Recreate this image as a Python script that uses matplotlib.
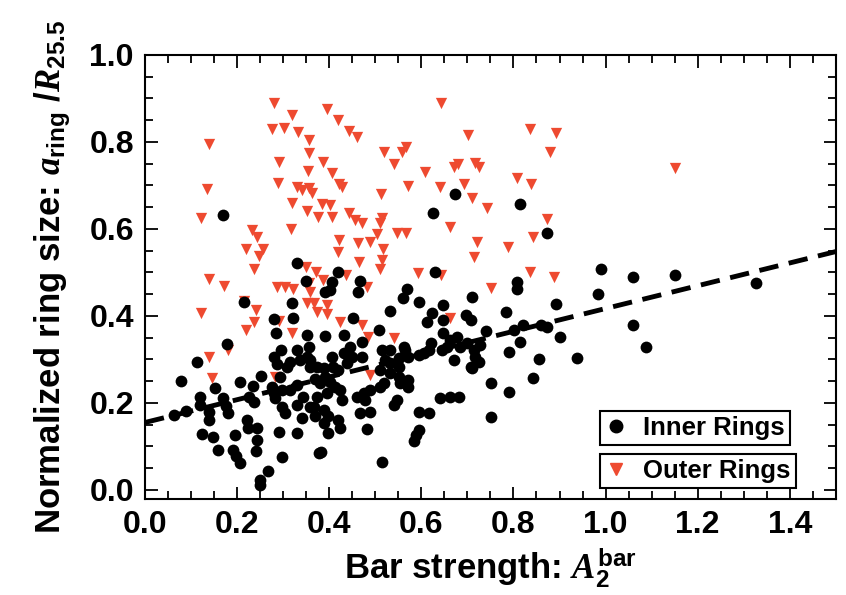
import matplotlib
matplotlib.use("Agg")
import matplotlib.pyplot as plt
from matplotlib.lines import Line2D
from matplotlib.ticker import MultipleLocator
import numpy as np

plt.rcParams['font.family'] = ['Liberation Sans', 'DejaVu Sans']
plt.rcParams['font.weight'] = 'bold'
plt.rcParams['mathtext.fontset'] = 'custom'
plt.rcParams['mathtext.it'] = 'Liberation Serif:italic'
plt.rcParams['mathtext.bf'] = 'Liberation Sans:bold'
plt.rcParams['mathtext.rm'] = 'Liberation Sans:bold'

# inner rings (black circles): bar strength, normalized ring size
inner_x = [0.062, 0.089, 0.078, 0.112, 0.120, 0.120, 0.138, 0.138, 0.123, 0.152,
           0.147, 0.159, 0.170, 0.176, 0.181, 0.196, 0.192, 0.198, 0.207, 0.169,
           0.179, 0.207, 0.221, 0.223, 0.243, 0.243, 0.241, 0.268, 0.250, 0.250,
           0.235, 0.225, 0.237, 0.252, 0.216, 0.290,
           0.330, 0.350, 0.319, 0.279, 0.322, 0.285, 0.352, 0.295, 0.330, 0.355,
           0.280, 0.286, 0.315, 0.337, 0.352, 0.359, 0.308, 0.293, 0.275, 0.279,
           0.297, 0.315, 0.330, 0.370, 0.283, 0.297, 0.304, 0.344, 0.330, 0.359,
           0.341, 0.370, 0.330, 0.297, 0.377,
           0.406, 0.420, 0.402, 0.391, 0.466, 0.462, 0.452, 0.391, 0.431, 0.446,
           0.431, 0.438, 0.449, 0.471, 0.471, 0.406, 0.409, 0.420, 0.359, 0.373,
           0.388, 0.391, 0.380, 0.402, 0.395, 0.413, 0.424, 0.428, 0.373, 0.366,
           0.388, 0.398, 0.388, 0.420, 0.424, 0.398, 0.383, 0.460, 0.475, 0.489,
           0.478, 0.467, 0.489, 0.483, 0.515,
           0.509, 0.531, 0.569, 0.560, 0.596, 0.630, 0.648, 0.710, 0.623, 0.612,
           0.648, 0.648, 0.696, 0.707, 0.515, 0.533, 0.522, 0.533, 0.562, 0.551,
           0.565, 0.572, 0.511, 0.533, 0.551, 0.518, 0.511, 0.551, 0.554, 0.572,
           0.572, 0.547, 0.540, 0.594, 0.605, 0.616, 0.620, 0.645, 0.656, 0.663,
           0.678, 0.685, 0.699, 0.714, 0.670, 0.707, 0.594, 0.616, 0.641, 0.663,
           0.681, 0.594, 0.589, 0.583, 0.625, 0.672,
           0.808, 0.807, 0.984, 0.893, 0.783, 0.741, 0.821, 0.801, 0.872, 1.059,
           1.087, 0.902, 0.814, 0.790, 0.855, 0.937, 0.752, 0.790, 0.843, 0.752,
           0.728, 0.717, 0.725, 0.710, 0.815, 0.872, 0.991, 1.060, 1.150, 1.326,
           0.859]
inner_y = [0.172, 0.182, 0.251, 0.295, 0.214, 0.195, 0.180, 0.161, 0.129, 0.234,
           0.121, 0.092, 0.211, 0.193, 0.176, 0.126, 0.091, 0.078, 0.062, 0.631,
           0.336, 0.248, 0.161, 0.143, 0.142, 0.115, 0.090, 0.044, 0.023, 0.011,
           0.239, 0.213, 0.203, 0.262, 0.431, 0.134,
           0.522, 0.480, 0.429, 0.394, 0.395, 0.360, 0.356, 0.322, 0.322, 0.329,
           0.305, 0.290, 0.295, 0.299, 0.306, 0.283, 0.283, 0.260, 0.237, 0.222,
           0.230, 0.230, 0.241, 0.254, 0.211, 0.191, 0.176, 0.214, 0.195, 0.191,
           0.165, 0.169, 0.130, 0.075, 0.084,
           0.479, 0.500, 0.460, 0.456, 0.481, 0.454, 0.395, 0.354, 0.356, 0.329,
           0.314, 0.291, 0.306, 0.339, 0.306, 0.306, 0.283, 0.276, 0.299, 0.283,
           0.280, 0.260, 0.245, 0.249, 0.222, 0.237, 0.230, 0.207, 0.214, 0.191,
           0.184, 0.169, 0.153, 0.161, 0.142, 0.130, 0.087, 0.214, 0.222, 0.230,
           0.207, 0.176, 0.180, 0.140, 0.063,
           0.368, 0.411, 0.462, 0.441, 0.433, 0.500, 0.425, 0.444, 0.406, 0.387,
           0.391, 0.360, 0.402, 0.391, 0.322, 0.322, 0.299, 0.291, 0.329, 0.303,
           0.322, 0.306, 0.276, 0.268, 0.283, 0.245, 0.237, 0.260, 0.245, 0.253,
           0.237, 0.207, 0.195, 0.310, 0.314, 0.322, 0.337, 0.322, 0.329, 0.345,
           0.352, 0.329, 0.337, 0.322, 0.299, 0.283, 0.180, 0.176, 0.211, 0.214,
           0.214, 0.138, 0.126, 0.113, 0.636, 0.680,
           0.479, 0.461, 0.450, 0.427, 0.408, 0.366, 0.379, 0.368, 0.375, 0.378,
           0.328, 0.351, 0.339, 0.316, 0.300, 0.303, 0.245, 0.224, 0.258, 0.167,
           0.333, 0.306, 0.295, 0.280, 0.657, 0.591, 0.508, 0.489, 0.494, 0.475,
           0.379]

# outer rings (red triangles)
outer_x = [0.279, 0.319, 0.395, 0.420, 0.275, 0.302, 0.332, 0.355, 0.442, 0.460,
           0.140, 0.357, 0.292, 0.386, 0.518, 0.557, 0.567, 0.540, 0.353, 0.406,
           0.607, 0.643, 0.702, 0.670, 0.679, 0.717, 0.135, 0.288, 0.330, 0.341,
           0.355, 0.362, 0.422, 0.427, 0.513, 0.572, 0.641, 0.693, 0.710, 0.320,
           0.384, 0.401, 0.352, 0.375, 0.407, 0.442, 0.455, 0.471, 0.515, 0.511,
           0.122, 0.317, 0.233, 0.244, 0.504, 0.547, 0.567, 0.663, 0.720, 0.220,
           0.256, 0.248, 0.422, 0.418, 0.462, 0.488, 0.517, 0.515, 0.464, 0.511,
           0.714, 0.237, 0.350, 0.372, 0.437, 0.386, 0.140, 0.172, 0.593, 0.643,
           0.482, 0.286, 0.304, 0.322, 0.837, 0.893, 0.879, 0.726, 1.150, 0.808,
           0.839, 0.743, 0.872, 0.843, 0.788, 0.837, 0.889, 0.752, 0.122, 0.214,
           0.241, 0.237, 0.220, 0.138, 0.180, 0.145, 0.283, 0.292, 0.319, 0.355,
           0.359, 0.352, 0.366, 0.373, 0.395, 0.396, 0.424, 0.471, 0.484, 0.540,
           0.488, 0.663]
outer_y = [0.889, 0.862, 0.875, 0.851, 0.829, 0.831, 0.824, 0.805, 0.826, 0.812,
           0.795, 0.774, 0.755, 0.755, 0.776, 0.778, 0.789, 0.749, 0.733, 0.729,
           0.732, 0.889, 0.816, 0.743, 0.749, 0.751, 0.691, 0.705, 0.697, 0.690,
           0.694, 0.682, 0.703, 0.697, 0.680, 0.699, 0.697, 0.703, 0.671, 0.660,
           0.657, 0.654, 0.642, 0.627, 0.628, 0.637, 0.621, 0.614, 0.625, 0.614,
           0.625, 0.599, 0.598, 0.582, 0.588, 0.590, 0.590, 0.604, 0.569, 0.554,
           0.553, 0.538, 0.575, 0.546, 0.567, 0.569, 0.553, 0.529, 0.523, 0.507,
           0.536, 0.507, 0.513, 0.502, 0.494, 0.483, 0.484, 0.469, 0.498, 0.494,
           0.467, 0.467, 0.467, 0.462, 0.829, 0.821, 0.776, 0.742, 0.741, 0.717,
           0.703, 0.648, 0.622, 0.581, 0.559, 0.500, 0.489, 0.464, 0.406, 0.435,
           0.414, 0.385, 0.368, 0.305, 0.322, 0.257, 0.259, 0.389, 0.360, 0.475,
           0.456, 0.429, 0.429, 0.410, 0.425, 0.405, 0.387, 0.379, 0.351, 0.349,
           0.264, 0.396]

# linear fit shown as dashed line
fit_intercept = 0.155
fit_slope = 0.262

red = '#ee4a30'

fig = plt.figure(figsize=(8.46, 5.95), dpi=100)
ax = fig.add_axes([0.1714, 0.1613, 0.8166, 0.7463])

ax.scatter(inner_x, inner_y, s=72, color='black', linewidths=0, zorder=3)
ax.scatter(outer_x, outer_y, s=66, marker='v', color=red, linewidths=0, zorder=2)

xf = np.array([0.0, 1.5])
ax.plot(xf, fit_intercept + fit_slope * xf, color='black', lw=3.5,
        dashes=(4, 2.2), zorder=4)

ax.set_xlim(0, 1.5)
ax.set_ylim(-0.021, 1.0)
ax.xaxis.set_minor_locator(MultipleLocator(0.05))
ax.yaxis.set_minor_locator(MultipleLocator(0.05))
xt = np.arange(0, 1.41, 0.2)
yt = np.arange(0, 1.01, 0.2)
ax.set_xticks(xt)
ax.set_xticklabels([f"{v:.1f}" for v in xt])
ax.set_yticks(yt)
ax.set_yticklabels([f"{v:.1f}" for v in yt])
ax.tick_params(which='both', direction='in', top=True, right=True, width=1.3)
ax.tick_params(which='major', length=9, labelsize=23, pad=8)
ax.tick_params(which='minor', length=5.5)
for sp in ax.spines.values():
    sp.set_linewidth(1.5)

ax.set_xlabel(r'Bar strength: $\mathit{A}_{\mathbf{2}}^{\mathbf{bar}}$',
              fontsize=25, fontweight='bold', labelpad=5)
ax.set_ylabel(r'Normalized ring size: $\mathit{a}_{\mathbf{ring}}$ /$\mathit{R}_{\mathbf{25.5}}$',
              fontsize=25, fontweight='bold', labelpad=12)

h_in = Line2D([], [], marker='o', ls='none', color='black', markersize=9)
h_out = Line2D([], [], marker='v', ls='none', color=red, markersize=9)
leg_kw = dict(frameon=True, fancybox=False, edgecolor='black', framealpha=1,
              handlelength=0.9, handletextpad=0.6, borderpad=0.2,
              borderaxespad=0, prop={'weight': 'bold', 'size': 18.5})
leg1 = ax.legend(handles=[h_in], labels=['Inner Rings'], loc='upper left',
                 bbox_to_anchor=(0.658, 0.198), **leg_kw)
leg1.get_frame().set_linewidth(1.5)
ax.add_artist(leg1)
leg2 = ax.legend(handles=[h_out], labels=['Outer Rings'], loc='upper left',
                 bbox_to_anchor=(0.658, 0.101), **leg_kw)
leg2.get_frame().set_linewidth(1.5)

fig.savefig('out.png', dpi=100)
